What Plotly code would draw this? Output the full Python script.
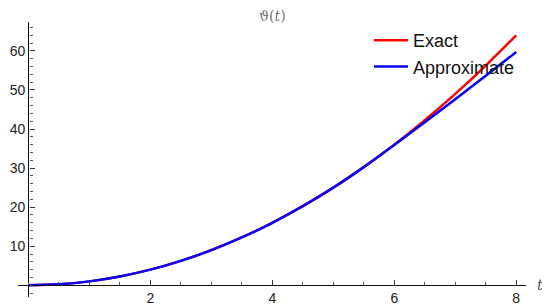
import plotly.graph_objects as go

t_vals = [0, 0.5, 1, 1.5, 2, 2.5, 3, 3.5, 4, 4.5, 5, 5.5, 6, 6.5, 7, 7.5, 8]
exact = [0, 0.25, 1, 2.25, 4, 6.25, 9, 12.25, 16, 20.25, 25, 30.25, 36, 42.25, 49, 56.25, 64]
approx = [0, 0.25, 1, 2.25, 4, 6.25, 9, 12.25, 16, 20.25, 25, 30.25, 35.93, 41.73, 47.63, 53.65, 59.7]

x_ticks = [2, 4, 6, 8]
y_ticks = [10, 20, 30, 40, 50, 60]

x_range = [-0.17, 8.16]
y_range = [-3, 67.4]

# the page body has an 8px margin, so the figure is sized/positioned to fit the window
OFF = 8
W, H = 550 - OFF, 307 - OFF

fig = go.Figure()
fig.add_trace(go.Scatter(x=t_vals, y=exact, mode="lines", name="Exact", legendgroup="a",
                         line=dict(color="#ff0000", width=2.5, shape="spline")))
fig.add_trace(go.Scatter(x=t_vals, y=approx, mode="lines", name="Approximate", legendgroup="b",
                         line=dict(color="#0000ff", width=2.5, shape="spline")))

# axes cross at the origin, Mathematica style
x_pos = (0 - y_range[0]) / (y_range[1] - y_range[0])
y_pos = (0 - x_range[0]) / (x_range[1] - x_range[0])

axis_font = dict(family="Liberation Sans, Arial, sans-serif", size=14, color="#222")

fig.update_xaxes(
    range=x_range, anchor="free", position=x_pos, automargin=False,
    showline=True, linecolor="#111", linewidth=1.3,
    tickmode="array", tickvals=x_ticks, ticks="inside", ticklen=5,
    tickcolor="#333", tickwidth=1, tickfont=axis_font,
    minor=dict(dtick=0.5, tick0=0, ticks="inside", ticklen=3, tickcolor="#555"),
    showgrid=False, zeroline=False,
)
fig.update_yaxes(
    range=y_range, anchor="free", position=y_pos, automargin=False,
    showline=True, linecolor="#111", linewidth=1.3,
    tickmode="array", tickvals=y_ticks, ticks="inside", ticklen=5,
    tickcolor="#333", tickwidth=1, tickfont=axis_font,
    minor=dict(dtick=2, tick0=0, ticks="inside", ticklen=3, tickcolor="#555"),
    showgrid=False, zeroline=False,
)

# plot area in window pixels
plot_l, plot_w, plot_t, plot_h = 18, 508, 22, 275

fig.add_annotation(text="<i>t</i>", x=(540 - plot_l) / plot_w, y=x_pos, xref="paper", yref="paper",
                   showarrow=False, xanchor="center", yanchor="middle",
                   font=dict(family="DejaVu Serif, serif", size=15, color="#555"))
fig.add_annotation(text="ϑ(<i>t</i>)", x=(272 - plot_l) / plot_w, y=1 + (plot_t - 16) / plot_h,
                   xref="paper", yref="paper", showarrow=False, yanchor="middle",
                   font=dict(family="DejaVu Serif, serif", size=14, color="#777"))

fig.update_layout(
    width=W, height=H,
    margin=dict(l=plot_l - OFF, r=550 - plot_l - plot_w, t=plot_t - OFF, b=307 - plot_t - plot_h),
    paper_bgcolor="white", plot_bgcolor="white",
    showlegend=True,
    legend=dict(x=(369 - plot_l) / plot_w, y=1 - (22 - plot_t) / plot_h, xanchor="left", yanchor="top",
                bgcolor="rgba(0,0,0,0)",
                font=dict(family="Liberation Sans, Arial, sans-serif", size=18, color="#111"),
                itemwidth=34, tracegroupgap=0),
)

fig.write_html("out.html")
